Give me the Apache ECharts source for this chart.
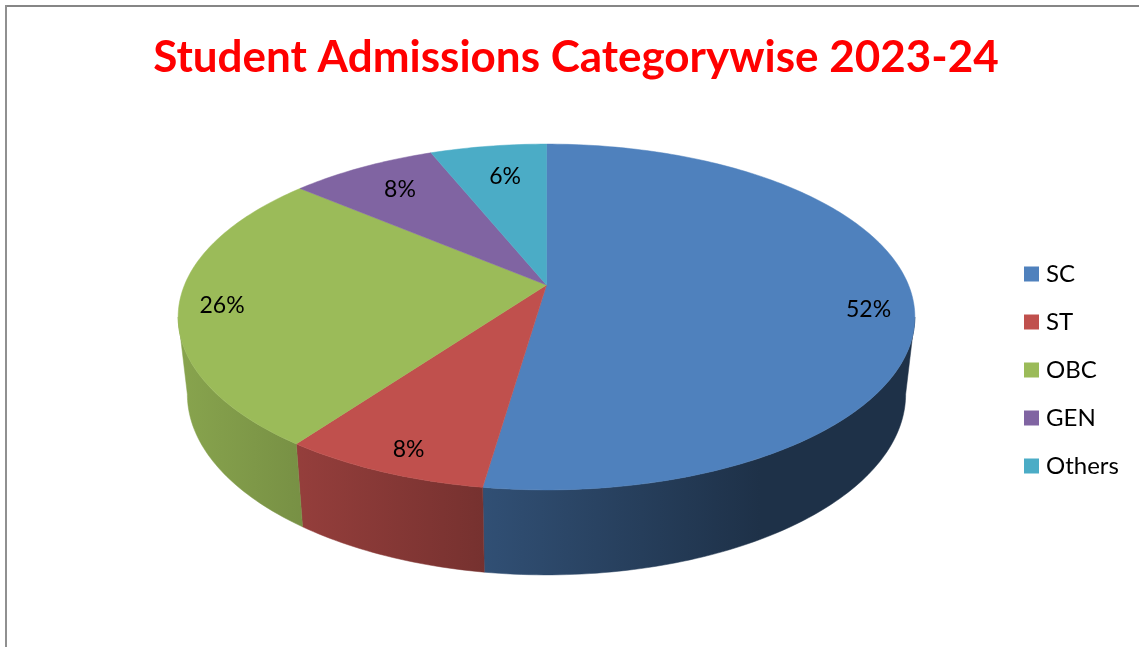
<!DOCTYPE html>
<html>
<head>
<meta charset="utf-8">
<title>Student Admissions Categorywise 2023-24</title>
<script src="https://cdn.jsdelivr.net/npm/echarts@6/dist/echarts.min.js"></script>
<style>
  html, body { margin: 0; padding: 0; background: #fff; }
  #main { width: 1139px; height: 647px; }
</style>
</head>
<body>
<div id="main"></div>
<script>
// values (the labels round them)
var categories = ["SC", "ST", "OBC", "GEN", "Others"];
var shares = [52.3, 7.7, 26.2, 7.7, 6.1];
var colors = ["#4F81BD", "#C0504D", "#9BBB59", "#8064A2", "#4BACC6"];

// how far along the radius each label sits
var labelRatio = [0.88, 0.88, 0.88, 0.79, 0.76];
var labelNudge = [[0, 14], [7, 0], [-1, 3], [-1, -2], [3, -3]];

// top face: circle under a perspective, so the apex is above the ellipse centre
var cx = 546.5, apexY = 285, rx = 362, ry = 167, persp = 0.185;
var total = shares.reduce(function (a, b) { return a + b; }, 0);
var starts = [];
shares.reduce(function (acc, v, i) { starts[i] = acc; return acc + v; }, 0);

// left and right extremes of the ellipse, the wall runs between them
var wallFrom = 180 - Math.acos(persp) * 180 / Math.PI;
var wallTo = 360 - wallFrom;

function topPoint(deg) {
  var t = deg * Math.PI / 180;
  var u = Math.sin(t), v = -Math.cos(t);
  var s = 1 / (1 - persp * v);
  return [cx + rx * u * s, apexY + ry * v * s];
}
function bottomPoint(p) {
  return [cx + (p[0] - cx) * 0.975, p[1] + 85 + (p[1] - 490) * 0.045];
}
function arc(a, b) {
  var pts = [];
  var n = Math.max(2, Math.ceil(Math.abs(b - a)));
  for (var i = 0; i <= n; i++) pts.push(topPoint(a + (b - a) * i / n));
  return pts;
}
function shade(hex, k) {
  var c = echarts.color.parse(hex);
  return "rgb(" + Math.round(c[0] * k) + "," + Math.round(c[1] * k) + "," + Math.round(c[2] * k) + ")";
}

function makeSlice(i) {
  return function (params, api) {
    var a = starts[i] / total * 360;
    var b = a + api.value(0) / total * 360;
    var children = [];

    // side wall, only the part facing us
    var wa = Math.max(a, wallFrom), wb = Math.min(b, wallTo);
    if (wb > wa) {
      var top = arc(wa, wb);
      var wall = top.concat(top.map(bottomPoint).reverse());
      var grad = new echarts.graphic.LinearGradient(185, 0, 760, 0, [
        { offset: 0, color: shade(colors[i], 0.87) },
        { offset: 1, color: shade(colors[i], 0.38) }
      ], true);
      children.push({
        type: "polygon",
        shape: { points: wall },
        style: { fill: grad, stroke: grad, lineWidth: 0.5 }
      });
    }

    children.push({
      type: "polygon",
      shape: { points: [[cx, apexY]].concat(arc(a, b)) },
      style: { fill: colors[i], stroke: colors[i], lineWidth: 0.5 }
    });

    var edge = topPoint((a + b) / 2);
    children.push({
      type: "text",
      x: cx + (edge[0] - cx) * labelRatio[i] + labelNudge[i][0],
      y: apexY + (edge[1] - apexY) * labelRatio[i] + labelNudge[i][1],
      style: {
        text: Math.round(api.value(0)) + "%",
        fontFamily: "Lato",
        fontSize: 23,
        fill: "#000",
        textAlign: "center",
        textVerticalAlign: "middle"
      }
    });
    return { type: "group", children: children };
  };
}

var chart = echarts.init(document.getElementById("main"));
chart.setOption({
  animation: false,
  backgroundColor: "#fff",
  color: colors,
  title: {
    text: "Student Admissions Categorywise 2023-24",
    left: 571,
    top: 31,
    textAlign: "center",
    textStyle: { color: "#FF0000", fontFamily: "Lato", fontWeight: "bold", fontSize: 44 }
  },
  legend: {
    orient: "vertical",
    left: 1024,
    top: 262,
    padding: 0,
    icon: "rect",
    itemWidth: 15,
    itemHeight: 15,
    itemGap: 24,
    data: categories,
    textStyle: { fontFamily: "Lato", fontSize: 24, color: "#000", lineHeight: 15, height: 15, padding: [0, 0, 0, 2] }
  },
  graphic: [
    { type: "rect", shape: { x: 5, y: 5, width: 1134, height: 2 }, style: { fill: "#868686" } },
    { type: "rect", shape: { x: 5, y: 5, width: 2, height: 642 }, style: { fill: "#909090" } }
  ],
  series: categories.map(function (name, i) {
    return {
      name: name,
      type: "custom",
      coordinateSystem: "none",
      silent: true,
      renderItem: makeSlice(i),
      data: [[shares[i]]]
    };
  })
});
</script>
</body>
</html>
